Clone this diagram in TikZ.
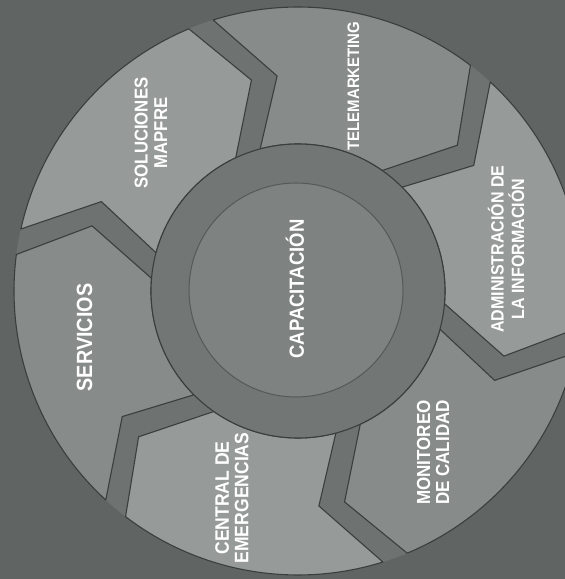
\documentclass[tikz,border=0pt]{standalone}
\usepackage{fontspec}
\newfontfamily\lblfont[FakeStretch=0.9]{Liberation Sans}
\definecolor{bgc}{HTML}{606563}
\definecolor{bandc}{HTML}{6E7371}
\definecolor{segL}{HTML}{969B99}
\definecolor{segD}{HTML}{878C8A}
\definecolor{ringc}{HTML}{727775}
\definecolor{innerc}{HTML}{7E8381}
\definecolor{edgec}{HTML}{3A3E3C}
\tikzset{
  segbox/.style={draw=edgec, line width=1.1pt, line join=round},
  lbl/.style={text=white, rotate=90, align=center, inner sep=0pt},
}
\begin{document}
\begin{tikzpicture}[x=1pt,y=1pt]
\useasboundingbox (0,0) rectangle (565,579);
\fill[bgc] (0,0) rectangle (565,579);
\begin{scope}[shift={(298,288)}]
  \fill[bandc] (0,0) circle (284);
  \foreach \a/\c in {50/segL,110/segD,170/segL,230/segD,290/segL,350/segD}{
    \filldraw[segbox, fill=\c] (\a-2.61:284)
      arc[start angle=\a-2.61, end angle=\a-57.39, radius=284]
      -- (\a-67.55:216) -- (\a-54.93:147)
      arc[start angle=\a-54.93, end angle=\a-5.07, radius=147]
      -- (\a-14.45:216) -- cycle;
  }
  \filldraw[fill=ringc, draw=edgec, line width=1.1pt] (0,0) circle (147);
  \filldraw[fill=innerc, draw=edgec!60!innerc, line width=1pt] (-2,1) circle (107);
\end{scope}
\node[lbl, font={\lblfont\bfseries\fontsize{20.5}{23}\selectfont}] (capacitacion) at (295,290) {CAPACITACIÓN};
\node[lbl, font={\lblfont\bfseries\fontsize{22}{24}\selectfont}] (servicios) at (84.5,241.5) {SERVICIOS};
\node[lbl, font={\lblfont\bfseries\fontsize{18.6}{19.5}\selectfont}] (soluciones) at (151,446) {SOLUCIONES\\MAPFRE};
\node[lbl, font={\lblfont\bfseries\fontsize{16.6}{18}\selectfont}] (telemarketing) at (353.5,493) {TELEMARKETING};
\node[lbl, font={\lblfont\bfseries\fontsize{17.8}{20.5}\selectfont}] (admin) at (506,330) {ADMINISTRACIÓN DE\\LA INFORMACIÓN};
\node[lbl, font={\lblfont\bfseries\fontsize{18.9}{19}\selectfont}] (monitoreo) at (433,126.5) {MONITOREO\\DE CALIDAD};
\node[lbl, font={\lblfont\bfseries\fontsize{19.5}{19.5}\selectfont}] (central) at (232,81) {CENTRAL DE\\EMERGENCIAS};
\end{tikzpicture}
\end{document}
